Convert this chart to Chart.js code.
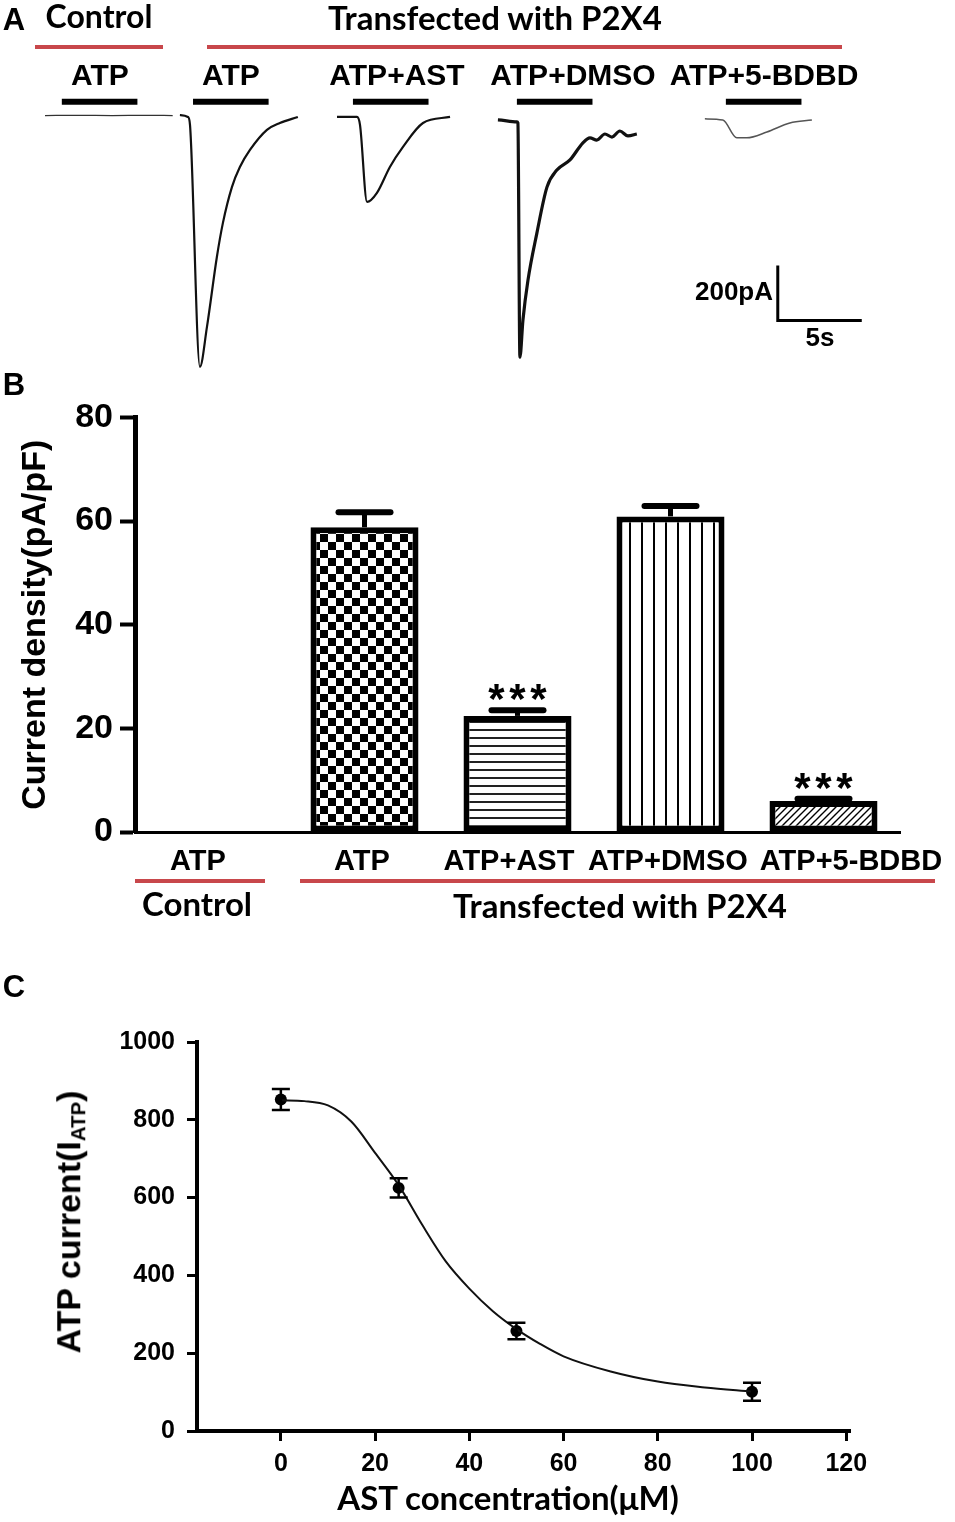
<!DOCTYPE html>
<html>
<head>
<meta charset="utf-8">
<script src="https://cdn.jsdelivr.net/npm/chart.js@4.4.1/dist/chart.umd.min.js"></script>
<style>
  body { margin: 0; background: #fff; }
  #page { position: relative; width: 955px; height: 1522px; overflow: hidden; background: #fff; }
  canvas { position: absolute; left: 0; }
  .t { position: absolute; transform: translate(-50%, -50%); white-space: nowrap; color: #000; line-height: 1; }
  .arial { font-family: 'Liberation Sans', Arial, sans-serif; font-weight: bold; }
  .cal { font-family: Lato, 'Open Sans', sans-serif; font-weight: bold; }
  .red { position: absolute; height: 4px; background: #c8474b; }
  .rot { transform: translate(-50%, -50%) rotate(-90deg); }
  sub { font-size: 60%; vertical-align: -0.25em; }
</style>
</head>
<body>
<div id="page">
  <canvas id="chartA" width="955" height="380" style="top:0"></canvas>
  <canvas id="chartB" width="955" height="470" style="top:390px"></canvas>
  <canvas id="chartC" width="955" height="572" style="top:950px"></canvas>

  <!-- panel A text -->
  <div class="t arial" style="left:14px;top:19px;font-size:31px">A</div>
  <div class="t cal" style="left:99px;top:16px;font-size:32px">Control</div>
  <div class="t cal" style="left:495px;top:17px;font-size:33px">Transfected with P2X4</div>
  <div class="red" style="left:35px;width:128px;top:45px"></div>
  <div class="red" style="left:207px;width:635px;top:45px"></div>
  <div class="t arial" style="left:100px;top:75px;font-size:30px">ATP</div>
  <div class="t arial" style="left:231px;top:75px;font-size:30px">ATP</div>
  <div class="t arial" style="left:397px;top:75px;font-size:30px">ATP+AST</div>
  <div class="t arial" style="left:573px;top:75px;font-size:30px">ATP+DMSO</div>
  <div class="t arial" style="left:764px;top:75px;font-size:30px">ATP+5-BDBD</div>
  <div class="t arial" style="left:734px;top:291px;font-size:26px">200pA</div>
  <div class="t arial" style="left:820px;top:337px;font-size:26px">5s</div>

  <!-- panel B text -->
  <div class="t arial" style="left:14px;top:384px;font-size:31px">B</div>
  <div class="t arial" style="left:198px;top:860px;font-size:29px">ATP</div>
  <div class="t arial" style="left:362px;top:860px;font-size:29px">ATP</div>
  <div class="t arial" style="left:509px;top:860px;font-size:29px">ATP+AST</div>
  <div class="t arial" style="left:668px;top:860px;font-size:29px">ATP+DMSO</div>
  <div class="t arial" style="left:851px;top:860px;font-size:29px">ATP+5-BDBD</div>
  <div class="red" style="left:135px;width:130px;top:879px"></div>
  <div class="red" style="left:300px;width:635px;top:879px"></div>
  <div class="t cal" style="left:197px;top:903px;font-size:33px">Control</div>
  <div class="t cal" style="left:620px;top:905px;font-size:33px">Transfected with P2X4</div>

  <!-- panel C text -->
  <div class="t arial" style="left:14px;top:986px;font-size:31px">C</div>
  <div class="t arial rot" style="left:70px;top:1222px;font-size:34px">ATP current(I<sub>ATP</sub>)</div>
  <div class="t cal" style="left:508px;top:1497px;font-size:33px">AST concentration(μM)</div>
</div>

<script>
// ---------- PANEL A: current traces (time in s, current in pA) ----------
const ctrlT = [0, 2, 4, 6, 7.6];
const ctrlI = [5, 6, 5, 6, 5];
const atpT = [0, 0.48, 0.6, 1.19, 1.61, 2.2, 2.56, 3.1, 3.57, 4.17, 5.18, 5.95, 7.02];
const atpI = [7, 0, -29, -908, -763, -509, -385, -254, -182, -120, -47, -22, 0];
const astT = [0, 1.19, 1.37, 1.79, 2.38, 3.15, 3.93, 5.12, 6.73];
const astI = [0, 0, -29, -309, -276, -182, -109, -22, 0];
const dmsoT = [0, 1.13, 1.19, 1.31, 1.49, 1.79, 2.32, 2.92, 3.51, 4.29, 5.06, 5.48, 5.89, 6.37, 6.79, 7.26, 7.74, 8.27];
const dmsoI = [-11, -18, -22, -873, -738, -593, -422, -255, -193, -156, -94, -76, -84, -62, -73, -51, -69, -62];
const bdbdT = [0, 1.07, 1.9, 2.5, 3.69, 5.06, 6.37];
const bdbdI = [-7, -11, -76, -76, -55, -22, -11];

const traceStart = [2.68, 10.71, 20.06, 29.64, 41.96];   // s
const appOnset = [1.0, 0.78, 0.95, 1.13, 1.25];           // s after trace start
const appDur = 4.5;                                        // s
const appLevel = 55;                                       // pA, drawn above traces
const scaleBarT = 46.3, scaleBarI = -540;                  // corner of scale bar
const scaleBarSec = 5, scaleBarPA = 200;

function pts(ts, is, t0) {
    return ts.map((t, k) => ({ x: t0 + t, y: is[k] }));
}

let traceSets = [
    { data: pts(ctrlT, ctrlI, traceStart[0]), borderColor: '#333', borderWidth: 1.3 },
    { data: pts(atpT, atpI, traceStart[1]), borderColor: '#111', borderWidth: 2.2 },
    { data: pts(astT, astI, traceStart[2]), borderColor: '#111', borderWidth: 2.2 },
    { data: pts(dmsoT, dmsoI, traceStart[3]), borderColor: '#111', borderWidth: 3.2 },
    { data: pts(bdbdT, bdbdI, traceStart[4]), borderColor: '#555', borderWidth: 1.5 }
].map(d => Object.assign({ cubicInterpolationMode: 'monotone' }, d));

// ATP application bars
traceStart.forEach((t0, k) => {
    let s = t0 + appOnset[k];
    traceSets.push({
        data: [{ x: s, y: appLevel }, { x: s + appDur, y: appLevel }],
        borderColor: '#000', borderWidth: 6, tension: 0
    });
});

// scale bar
traceSets.push({
    data: [
        { x: scaleBarT, y: scaleBarI },
        { x: scaleBarT, y: scaleBarI - scaleBarPA },
        { x: scaleBarT + scaleBarSec, y: scaleBarI - scaleBarPA }
    ],
    borderColor: '#000', borderWidth: 3, tension: 0
});

new Chart(document.getElementById('chartA'), {
    type: 'line',
    data: { datasets: traceSets.map(d => Object.assign({ pointRadius: 0, fill: false }, d)) },
    options: {
        animation: false,
        responsive: false,
        layout: { padding: 0 },
        plugins: { legend: { display: false }, tooltip: { enabled: false } },
        scales: {
            x: { type: 'linear', display: false, min: 0, max: 56.85 },
            y: { type: 'linear', display: false, min: -956, max: 425 }
        }
    }
});

// ---------- PANEL B: current density bars ----------
const groups = ['Control ATP', 'ATP', 'ATP+AST', 'ATP+DMSO', 'ATP+5-BDBD'];
const density = [0, 58.8, 22.4, 60.9, 6.0];
const densitySem = [0, 2.9, 1.1, 2.0, 0.4];
const significant = [false, false, true, false, true];
const yTicksB = [0, 20, 40, 60, 80];

function makePattern(kind) {
    let c = document.createElement('canvas');
    let g = c.getContext('2d');
    let s = { checker: 16, hlines: 8, vlines: 12, diag: 7 }[kind];
    c.width = s; c.height = s;
    g.fillStyle = '#fff';
    g.fillRect(0, 0, s, s);
    g.fillStyle = '#000';
    g.strokeStyle = '#000';
    if (kind === 'checker') {
        g.fillRect(0, 0, 8, 8);
        g.fillRect(8, 8, 8, 8);
    } else if (kind === 'hlines') {
        g.fillStyle = '#222';
        g.fillRect(0, 3, s, 2);
    } else if (kind === 'vlines') {
        g.fillRect(5, 0, 2, s);
    } else if (kind === 'diag') {
        g.lineWidth = 1.4;
        g.beginPath();
        g.moveTo(0, s); g.lineTo(s, 0);
        g.moveTo(-1, 1); g.lineTo(1, -1);
        g.moveTo(s - 1, s + 1); g.lineTo(s + 1, s - 1);
        g.stroke();
    }
    return g.createPattern(c, 'repeat');
}

const barFills = ['#fff', makePattern('checker'), makePattern('hlines'), makePattern('vlines'), makePattern('diag')];

const errorBarsB = {
    id: 'errorBarsB',
    afterDatasetsDraw(chart) {
        let ctx = chart.ctx;
        let y = chart.scales.y;
        let meta = chart.getDatasetMeta(0);
        ctx.save();
        ctx.strokeStyle = '#000';
        ctx.fillStyle = '#000';
        density.forEach((v, i) => {
            if (!v) return;
            let x = meta.data[i].x;
            let y0 = y.getPixelForValue(v);
            let y1 = y.getPixelForValue(v + densitySem[i]);
            ctx.lineWidth = 5;
            ctx.beginPath();
            ctx.moveTo(x, y0); ctx.lineTo(x, y1);
            ctx.stroke();
            ctx.lineWidth = 6;
            ctx.lineCap = 'round';
            ctx.beginPath();
            ctx.moveTo(x - 26, y1); ctx.lineTo(x + 26, y1);
            ctx.stroke();
            ctx.lineCap = 'butt';
            if (significant[i]) {
                let size = 42;
                ctx.font = 'bold ' + size + 'px "Liberation Sans", Arial, sans-serif';
                ctx.textAlign = 'center';
                ctx.textBaseline = 'alphabetic';
                let cy = y1 - 21 + 0.57 * size;
                [-21, 0, 21].forEach(dx => ctx.fillText('*', x + dx, cy));
            }
        });
        ctx.restore();
    }
};

new Chart(document.getElementById('chartB'), {
    type: 'bar',
    data: {
        labels: groups,
        datasets: [{
            data: density,
            backgroundColor: barFills,
            borderColor: '#000',
            borderWidth: 6,
            borderSkipped: false,
            barPercentage: 0.706,
            categoryPercentage: 1
        }]
    },
    options: {
        animation: false,
        responsive: false,
        layout: { padding: { top: 22, right: 55, left: 0, bottom: 0 } },
        plugins: { legend: { display: false }, tooltip: { enabled: false } },
        scales: {
            x: {
                ticks: { display: false },
                grid: { display: false },
                border: { display: true, width: 3, color: '#000' },
                afterFit(scale) { scale.height = 28; }
            },
            y: {
                min: 0,
                max: 80,
                afterBuildTicks(scale) { scale.ticks = yTicksB.map(v => ({ value: v })); },
                ticks: {
                    color: '#000',
                    padding: 7,
                    callback: v => String(v),
                    font: { family: '"Liberation Sans", Arial, sans-serif', size: 34, weight: 'bold' }
                },
                grid: { drawOnChartArea: false, tickLength: 15, tickWidth: 4, tickColor: '#000' },
                border: { display: true, width: 5, color: '#000' },
                title: {
                    display: true,
                    text: 'Current density(pA/pF)',
                    color: '#000',
                    padding: { top: 15 },
                    font: { family: '"Liberation Sans", Arial, sans-serif', size: 34, weight: 'bold' }
                },
                afterFit(scale) { scale.width = 135; }
            }
        }
    },
    plugins: [errorBarsB]
});

// ---------- PANEL C: concentration response ----------
const concX = [0, 25, 50, 100];
const meanI = [852, 625, 257, 101];
const semI = [27, 25, 21, 23];
const fitX = [0, 5, 10, 15, 20, 25, 30, 35, 40, 45, 50, 55, 60, 70, 80, 90, 100];
const fitY = [850, 848, 837, 795, 715, 632, 530, 436, 366, 308, 262, 224, 192, 153, 127, 112, 101];
const xTicksC = [0, 20, 40, 60, 80, 100, 120];
const yTicksC = [0, 200, 400, 600, 800, 1000];

const errorBarsC = {
    id: 'errorBarsC',
    afterDatasetsDraw(chart) {
        let ctx = chart.ctx;
        let xs = chart.scales.x, ys = chart.scales.y;
        ctx.save();
        ctx.strokeStyle = '#000';
        ctx.lineWidth = 2.5;
        concX.forEach((c, i) => {
            let x = xs.getPixelForValue(c);
            let yt = ys.getPixelForValue(meanI[i] + semI[i]);
            let yb = ys.getPixelForValue(meanI[i] - semI[i]);
            ctx.beginPath();
            ctx.moveTo(x, yt); ctx.lineTo(x, yb);
            ctx.moveTo(x - 9, yt); ctx.lineTo(x + 9, yt);
            ctx.moveTo(x - 9, yb); ctx.lineTo(x + 9, yb);
            ctx.stroke();
        });
        ctx.restore();
    }
};

const tickFontC = { family: '"Liberation Sans", Arial, sans-serif', size: 25, weight: 'bold' };

new Chart(document.getElementById('chartC'), {
    type: 'scatter',
    data: {
        datasets: [
            {
                type: 'line',
                data: fitX.map((x, i) => ({ x: x, y: fitY[i] })),
                borderColor: '#111',
                borderWidth: 2,
                pointRadius: 0,
                fill: false,
                cubicInterpolationMode: 'monotone'
            },
            {
                type: 'scatter',
                data: concX.map((x, i) => ({ x: x, y: meanI[i] })),
                backgroundColor: '#000',
                borderWidth: 0,
                pointRadius: 6
            }
        ]
    },
    options: {
        animation: false,
        responsive: false,
        layout: { padding: { top: 92, right: 105, left: 0, bottom: 0 } },
        plugins: { legend: { display: false }, tooltip: { enabled: false } },
        scales: {
            x: {
                type: 'linear',
                min: -17.8,
                max: 120.8,
                afterBuildTicks(scale) { scale.ticks = xTicksC.map(v => ({ value: v })); },
                ticks: { color: '#000', padding: 8, font: tickFontC, maxRotation: 0, callback: v => String(v) },
                grid: { drawOnChartArea: false, tickLength: 10, tickWidth: 3, tickColor: '#000' },
                border: { display: true, width: 4, color: '#000' },
                afterFit(scale) { scale.height = 91; }
            },
            y: {
                type: 'linear',
                min: 0,
                max: 1000,
                afterBuildTicks(scale) { scale.ticks = yTicksC.map(v => ({ value: v })); },
                ticks: { color: '#000', padding: 12, font: tickFontC, callback: v => String(v) },
                grid: { drawOnChartArea: false, tickLength: 10, tickWidth: 3, tickColor: '#000' },
                border: { display: true, width: 4, color: '#000' },
                afterFit(scale) { scale.width = 197; }
            }
        }
    },
    plugins: [errorBarsC]
});
</script>
</body>
</html>
